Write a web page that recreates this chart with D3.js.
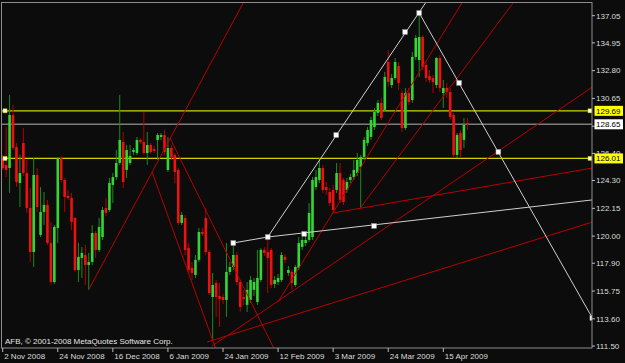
<!DOCTYPE html>
<html>
<head>
<meta charset="utf-8">
<script src="https://d3js.org/d3.v7.min.js"></script>
<style>
  body { margin: 0; background: #0b0c0b; }
  svg { display: block; }
  text { font-family: "Liberation Sans", Arial, sans-serif; font-size: 8px; }
</style>
</head>
<body>
<div id="chart"></div>
<script>
// daily AFB candles, bar 0 = 2 Nov 2008
let opens = [126.04,125.50,125.27,129.37,126.90,124.11,127.20,124.88,122.18,118.77,
  124.73,120.09,121.87,122.41,119.47,116.45,120.63,126.04,124.34,123.11,
  122.95,121.40,117.38,118.31,118.54,117.77,118.00,120.24,118.93,119.93,
  122.18,122.02,123.96,124.57,125.66,127.28,125.12,125.66,126.51,126.43,
  127.44,127.28,126.43,127.05,126.74,127.44,127.67,127.82,125.12,126.82,
  126.28,125.12,121.02,121.40,119.08,117.54,117.00,118.16,120.32,121.40,
  118.77,115.29,116.38,115.37,115.29,115.06,117.23,117.61,118.54,116.45,
  115.29,114.68,115.06,115.84,114.91,116.61,118.93,118.77,118.93,116.30,
  116.45,116.61,118.39,117.15,117.23,116.22,117.54,119.16,119.47,119.70,
  119.93,123.80,124.34,125.27,123.80,123.41,123.57,123.57,124.88,124.34,
  123.57,124.34,124.57,124.88,125.35,126.12,127.20,127.67,128.44,129.53,
  130.30,129.76,133.47,131.69,132.23,133.16,131.07,128.36,131.07,130.53,
  133.86,133.62,135.40,133.24,132.39,132.23,131.69,133.78,131.07,131.46,
  131.15,129.37,126.28,127.98,127.44,128.75];
let highs = [126.28,128.44,130.92,130.14,127.20,126.28,128.36,125.89,123.72,126.04,
  125.27,123.80,123.41,122.80,121.10,120.86,126.12,126.20,124.50,123.57,
  123.34,121.48,119.47,119.16,119.32,118.70,120.86,120.40,121.40,122.25,
  122.95,124.50,124.88,126.66,130.92,128.06,127.05,127.05,126.82,127.67,
  127.59,129.60,128.06,127.20,126.97,127.98,127.98,128.21,127.67,127.05,
  126.43,125.27,121.87,121.64,119.47,118.00,118.54,120.63,120.63,122.18,
  118.93,117.15,116.61,116.38,115.53,119.47,118.00,119.55,118.77,116.61,
  115.84,116.45,116.92,116.76,118.93,119.08,119.16,119.93,119.08,116.92,
  117.07,118.77,118.62,117.69,117.38,117.77,119.93,119.93,120.01,122.56,
  124.57,125.12,126.04,125.50,124.19,123.72,123.96,125.66,125.66,124.50,
  124.50,124.81,125.89,126.43,126.28,127.67,128.44,129.22,129.91,130.53,
  130.69,132.70,134.40,132.54,133.78,133.47,131.30,131.46,131.46,134.24,
  135.56,137.26,135.56,133.47,132.85,132.46,133.86,134.01,132.08,131.85,
  131.46,129.53,127.98,128.21,129.14,129.14];
let lows = [125.12,124.57,123.34,126.66,123.80,122.25,124.65,121.79,118.00,117.61,
  121.87,119.93,120.86,119.32,116.22,116.30,119.47,124.19,121.87,122.80,
  120.48,117.23,116.45,116.76,116.22,115.84,117.77,118.31,118.77,119.70,
  121.56,121.87,122.56,124.34,125.50,123.72,124.50,125.50,126.28,126.28,
  127.13,126.28,125.50,126.35,126.43,125.89,127.44,126.28,124.96,125.89,
  124.11,120.86,120.86,118.54,117.15,116.61,116.76,118.00,120.01,118.54,
  115.45,111.97,113.75,112.97,114.75,113.75,117.00,117.38,116.22,114.13,
  114.68,114.13,114.83,115.37,114.68,116.45,118.47,115.60,115.99,115.99,
  116.22,116.45,117.92,116.92,115.84,116.07,117.38,118.93,119.24,119.55,
  119.70,123.57,124.11,123.34,123.18,122.33,121.79,123.34,122.56,122.41,
  123.34,124.11,124.34,124.65,122.18,125.89,126.97,127.44,128.21,129.29,
  128.98,129.60,131.54,131.46,132.08,131.30,128.06,128.21,130.14,130.30,
  133.62,132.31,132.85,131.92,131.85,131.07,131.46,131.15,129.91,130.69,
  128.98,126.04,126.04,126.04,126.82,128.21];
let closes = [125.27,125.12,129.37,126.82,124.19,124.88,124.88,122.18,118.77,124.73,
  122.25,121.87,122.41,119.47,116.45,120.71,126.04,124.34,123.03,122.95,
  121.10,117.38,118.39,118.70,117.77,118.00,120.24,118.93,120.71,122.02,
  121.79,124.11,124.57,125.66,127.44,124.19,126.66,126.20,126.66,127.44,
  127.28,126.43,127.05,126.51,126.59,127.82,127.82,126.51,126.82,126.12,
  124.96,121.02,121.64,118.93,117.38,117.15,118.16,120.32,120.17,118.77,
  115.60,116.22,115.29,115.14,115.06,117.23,117.61,118.54,116.45,114.52,
  115.14,115.84,116.61,116.45,116.76,118.93,118.70,118.31,116.22,116.61,
  116.76,118.54,118.16,117.38,116.38,117.61,119.47,119.70,119.70,121.79,
  124.34,124.57,125.27,123.57,123.57,122.56,122.02,124.88,122.80,122.64,
  124.19,124.57,125.12,125.89,126.12,127.44,128.21,128.98,129.60,130.30,
  129.14,132.31,131.92,132.23,133.47,131.85,128.36,131.07,130.38,133.86,
  135.33,135.40,133.08,132.23,132.08,131.92,133.78,131.46,131.46,131.15,
  129.22,126.28,127.82,126.66,128.60,128.65];

// 128.50 sits under the bid box, so only its tick mark shows
let priceTicks = [137.05,134.95,132.80,130.65,128.50,126.40,124.30,122.15,120.00,117.90,115.75,113.60,111.50];
let priceLabels = ["137.05","134.95","132.80","130.65","","126.40","124.30","122.15","120.00","117.90","115.75","113.60","111.50"];
let dateBars = [0,16,32,48,64,80,96,112,128];
let dateLabels = ["2 Nov 2008","24 Nov 2008","16 Dec 2008","6 Jan 2009","24 Jan 2009","12 Feb 2009","3 Mar 2009","24 Mar 2009","15 Apr 2009"];

let yellowLevels = [129.69, 126.01];
let bidPrice = 128.65;

// trend objects: [bar, price] pairs
let redLines = [
  [[25.1,115.91],[70,138.1]],
  [[43.4,124.96],[62,111.2]],
  [[48.6,127.59],[79,111.2]],
  [[59.4,111.81],[171.3,121.09]],
  [[60.8,111.50],[171.3,131.53]],
  [[80,114.91],[134,138.3]],
  [[96,121.79],[171.3,125.27]],
  [[103.9,122.18],[149,138.3]]
];
let whiteLines = [
  [[77,119.93],[124,138.5]],
  [[121,137.26],[171.3,113.67]],
  [[67,119.47],[77,119.93]],
  [[77,119.93],[171.3,122.80]]
];
let whiteMarks = [[67,119.47],[77,119.93],[87.6,120.17],[107.9,120.79],[96.9,127.82],
  [116.9,135.79],[121,137.26],[132.6,131.85],[144,126.51],[171.3,113.67]];

let width = 625;
let height = 363;
let plotLeft = 2;
let plotRight = 592;
let plotTop = 2.5;
let plotBottom = 348;

let x = d3.scaleLinear().domain([0, 128]).range([2.7, 443.3]);
let y = d3.scaleLinear().domain([111.5, 137.05]).range([346, 15.7]);

let svg = d3.select("#chart").append("svg")
  .attr("width", width)
  .attr("height", height);

svg.append("rect").attr("width", width).attr("height", height).attr("fill", "#0b0c0b");

svg.append("clipPath").attr("id", "plot")
  .append("rect")
  .attr("x", plotLeft).attr("y", plotTop)
  .attr("width", plotRight - plotLeft).attr("height", plotBottom - plotTop);

let plot = svg.append("g").attr("clip-path", "url(#plot)");

// horizontal levels
plot.append("line")
  .attr("x1", plotLeft).attr("x2", plotRight)
  .attr("y1", y(bidPrice)).attr("y2", y(bidPrice))
  .attr("stroke", "#7c7c7c").attr("stroke-width", 1.6);

plot.selectAll(".level").data(yellowLevels).enter().append("line")
  .attr("x1", plotLeft).attr("x2", plotRight)
  .attr("y1", d => y(d)).attr("y2", d => y(d))
  .attr("stroke", "#d2d200").attr("stroke-width", 1.2);

// candles
let bars = d3.range(opens.length);
let bodyW = 2.6;

plot.selectAll(".wick").data(bars).enter().append("line")
  .attr("x1", i => x(i)).attr("x2", i => x(i))
  .attr("y1", i => y(highs[i])).attr("y2", i => y(lows[i]))
  .attr("stroke", i => closes[i] >= opens[i] ? "#1f8a1f" : "#b40000")
  .attr("stroke-width", 1);

plot.selectAll(".body").data(bars).enter().append("rect")
  .attr("x", i => x(i) - bodyW / 2)
  .attr("width", bodyW)
  .attr("y", i => y(Math.max(opens[i], closes[i])))
  .attr("height", i => Math.max(1, Math.abs(y(opens[i]) - y(closes[i]))))
  .attr("fill", i => closes[i] >= opens[i] ? "#33d633" : "#f01010");

// objects
let lineGen = d3.line().x(d => x(d[0])).y(d => y(d[1]));

plot.selectAll(".red").data(redLines).enter().append("path")
  .attr("d", lineGen)
  .attr("fill", "none").attr("stroke", "#bb0000").attr("stroke-width", 1);

plot.selectAll(".white").data(whiteLines).enter().append("path")
  .attr("d", lineGen)
  .attr("fill", "none").attr("stroke", "#cfcfcf").attr("stroke-width", 1);

plot.selectAll(".mark").data(whiteMarks).enter().append("rect")
  .attr("x", d => x(d[0]) - 2.4).attr("y", d => y(d[1]) - 2.4)
  .attr("width", 4.8).attr("height", 4.8)
  .attr("fill", "#ffffff").attr("stroke", "#9a9a9a").attr("stroke-width", 0.5);

// little end squares on the yellow levels
yellowLevels.forEach(function(p) {
  [3, 588].forEach(function(px) {
    plot.append("rect")
      .attr("x", px).attr("y", y(p) - 2)
      .attr("width", 4).attr("height", 4)
      .attr("fill", "#fffff0").attr("stroke", "#c8c800").attr("stroke-width", 0.5);
  });
});

svg.append("text")
  .attr("x", 5).attr("y", 344)
  .attr("fill", "#e6e6e6")
  .text("AFB, \u00a9 2001-2008 MetaQuotes Software Corp.");

// frame
svg.append("rect")
  .attr("x", 1.5).attr("y", plotTop)
  .attr("width", plotRight - 1.5).attr("height", plotBottom - plotTop)
  .attr("fill", "none").attr("stroke", "#8e8e8e").attr("stroke-width", 1);

// price axis
let pAxis = svg.append("g");
pAxis.selectAll("line").data(priceTicks).enter().append("line")
  .attr("x1", plotRight).attr("x2", plotRight + 3)
  .attr("y1", d => y(d)).attr("y2", d => y(d))
  .attr("stroke", "#bdbdbd");
pAxis.selectAll("text").data(priceTicks).enter().append("text")
  .attr("x", 596).attr("y", d => y(d)).attr("dy", "0.35em")
  .attr("fill", "#dcdcdc")
  .text((d, k) => priceLabels[k]);

// price boxes
let boxes = [
  {p: yellowLevels[0], fill: "#ffff00"},
  {p: bidPrice, fill: "#ffffff"},
  {p: yellowLevels[1], fill: "#ffff00"}
];
boxes.forEach(function(b) {
  svg.append("rect")
    .attr("x", 594.5).attr("y", y(b.p) - 5)
    .attr("width", 28.5).attr("height", 10)
    .attr("fill", b.fill);
  svg.append("text")
    .attr("x", 596).attr("y", y(b.p)).attr("dy", "0.35em")
    .attr("fill", "#000")
    .text(b.p.toFixed(2));
});

// time axis
let tAxis = svg.append("g");
tAxis.selectAll("line").data(dateBars).enter().append("line")
  .attr("x1", d => x(d)).attr("x2", d => x(d))
  .attr("y1", plotBottom).attr("y2", plotBottom + 4)
  .attr("stroke", "#bdbdbd");
tAxis.selectAll("text").data(dateBars).enter().append("text")
  .attr("x", d => x(d) + 1.5).attr("y", 359)
  .attr("fill", "#dcdcdc")
  .text((d, k) => dateLabels[k]);
</script>
</body>
</html>
